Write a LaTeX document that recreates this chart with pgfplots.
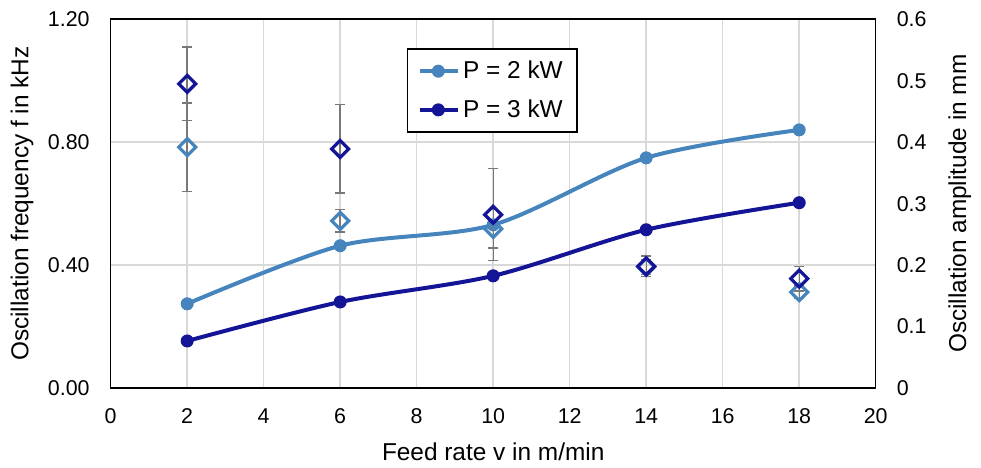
\documentclass[border=0pt]{standalone}
\usepackage{pgfplots}
\pgfplotsset{compat=1.18}
\usepackage{fontspec}
\setmainfont{Liberation Sans}
\definecolor{lb}{RGB}{70,132,190}
\definecolor{db}{RGB}{20,20,150}
\definecolor{gridc}{RGB}{217,217,217}
\definecolor{errc}{RGB}{120,120,120}
\begin{document}
\begin{tikzpicture}
\pgfplotsset{
  every axis/.append style={font=\fontsize{10.7}{12}\selectfont},
}
\begin{axis}[name=main, scale only axis, width=382.5pt, height=184.35pt,
  xmin=0, xmax=20, ymin=0, ymax=1.2,
  xtick={0,2,...,20}, ytick={0,0.4,0.8,1.2},
  xtick pos=bottom, ytick pos=left,
  major tick length=0pt,
  /pgf/number format/assume math mode=true,
  yticklabel style={/pgf/number format/fixed, /pgf/number format/fixed zerofill, /pgf/number format/precision=2, xshift=-7pt},
  xticklabel style={yshift=-7pt},
  grid=major, major grid style={gridc, line width=0.8pt},
  axis line style={black, line width=0.8pt},
  xlabel={Feed rate v in m/min},
  ylabel={Oscillation frequency f in kHz},
  xlabel style={font=\fontsize{12.2}{14}\selectfont, at={(axis description cs:0.5,-0.174)}, anchor=center},
  ylabel style={font=\fontsize{12.2}{14}\selectfont, at={(axis description cs:-0.116,0.5)}, anchor=center},
  legend style={at={(axis description cs:0.387,0.922)}, anchor=north west,
    draw=black, line width=0.8pt, fill=white,
    font=\fontsize{12.2}{14}\selectfont, inner xsep=5pt, inner ysep=4pt, row sep=5pt},
  legend cell align=left,
  legend image code/.code={\draw[mark repeat=2,mark phase=2] plot coordinates {(0cm,0cm)(0.33cm,0cm)(0.66cm,0cm)};},
]
\addplot[lb, line width=2pt, smooth, mark=*, mark size=3pt, mark options={solid, line width=0.5pt}]
  coordinates {(2,0.274) (6,0.463) (10,0.531) (14,0.749) (18,0.840)};
\addlegendentry{P = 2 kW}
\addplot[db, line width=2pt, smooth, mark=*, mark size=3pt, mark options={solid, line width=0.5pt}]
  coordinates {(2,0.153) (6,0.280) (10,0.365) (14,0.515) (18,0.603)};
\addlegendentry{P = 3 kW}
\end{axis}
\begin{axis}[scale only axis, width=382.5pt, height=184.35pt,
  xmin=0, xmax=20, ymin=0, ymax=0.6,
  axis x line=none, axis y line*=right,
  axis line style={draw=none},
  ytick={0,0.1,...,0.6},
  yticklabels={0,0.1,0.2,0.3,0.4,0.5,0.6},
  major tick length=0pt,
  yticklabel style={xshift=7pt},
  ylabel={Oscillation amplitude in mm},
  ylabel style={font=\fontsize{12.2}{14}\selectfont, at={(axis description cs:1.110,0.5)}, anchor=center},
]
\addplot[lb, only marks, mark=square, mark size=3pt, mark options={rotate=45, line width=1.6pt},
  error bars/.cd, y dir=both, y explicit,
  error bar style={errc, line width=0.7pt},
  error mark options={errc, rotate=90, mark size=2.5pt, line width=0.7pt}]
  coordinates {(2,0.392) +- (0,0.072) (6,0.272) +- (0,0.018) (10,0.259) +- (0,0.031) (14,0.197) +- (0,0.012) (18,0.156) +- (0,0.010)};
\addplot[db, only marks, mark=square, mark size=3pt, mark options={rotate=45, line width=1.6pt},
  error bars/.cd, y dir=both, y explicit,
  error bar style={errc, line width=0.7pt},
  error mark options={errc, rotate=90, mark size=2.5pt, line width=0.7pt}]
  coordinates {(2,0.495) +- (0,0.060) (6,0.389) +- (0,0.072) (10,0.282) +- (0,0.075) (14,0.198) +- (0,0.017) (18,0.178) +- (0,0.020)};
\end{axis}
\path (main.south west) ++(-55.35pt,-37pt) coordinate (bl);
\path (main.north east) ++(52.65pt,9.65pt) coordinate (tr);
\path (bl) rectangle (tr);
\end{tikzpicture}
\end{document}
